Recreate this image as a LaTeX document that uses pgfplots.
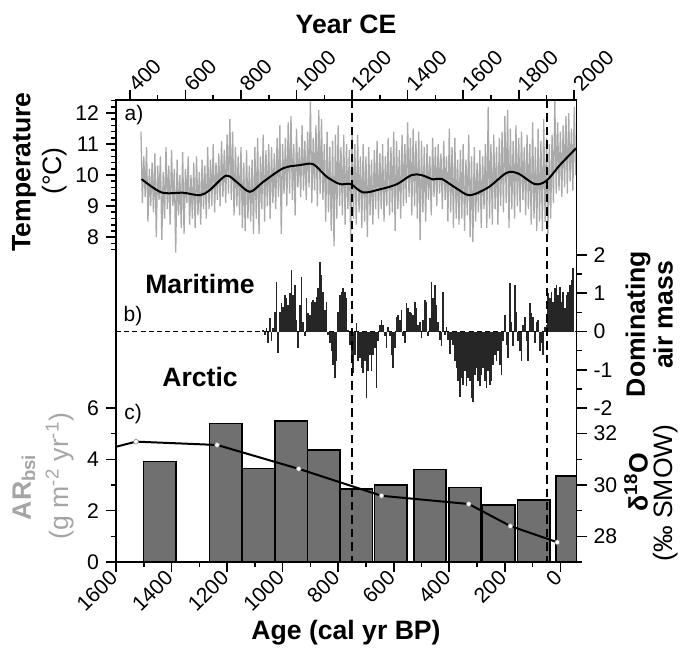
\documentclass[border=0pt]{standalone}
\usepackage{pgfplots}
\pgfplotsset{compat=1.18}
\usepackage{fontspec}
\setmainfont{Liberation Sans}

\definecolor{tempgray}{RGB}{170,170,170}
\definecolor{bargray}{RGB}{112,112,112}
\definecolor{argray}{RGB}{165,165,165}

\newcommand{\labfont}{\fontsize{13.3}{15}\selectfont}

\pgfplotsset{
  panel/.style={
    scale only axis, width=230.25pt, xmin=350, xmax=2008,
    anchor=south west,
    tick align=outside, major tick length=5pt, minor tick length=2.5pt,
    every tick/.style={black, line width=0.8pt},
    every minor tick/.style={black, line width=0.8pt},
    axis line style={line width=0.8pt},
    tick label style={font=\fontsize{10.6}{11}\selectfont},
    /pgf/number format/assume math mode=true,
  },
}

\begin{document}
\begin{tikzpicture}
\useasboundingbox (0,0) rectangle (342.5pt,-324pt);

% a) temperature
\begin{axis}[panel, at={(58pt,-126pt)}, height=76pt,
  ymin=7.52, ymax=12.42,
  axis x line*=top, axis y line*=left,
  xtick={400,600,800,1000,1200,1400,1600,1800,2000},
  xticklabels={400,600,800,1000,1200,1400,1600,1800,2000},
  minor xtick={500,700,900,1100,1300,1500,1700,1900},
  xticklabel style={rotate=45, anchor=west, inner sep=1.5pt},
  ytick={8,9,10,11,12},
  minor ytick={7.6,7.8,8.2,8.4,8.6,8.8,9.2,9.4,9.6,9.8,10.2,10.4,10.6,10.8,11.2,11.4,11.6,11.8,12.2,12.4},
]
\addplot[tempgray, line width=0.65pt] coordinates {
(440,11.4)(445,9.1)(450,10.6)(455,9.3)(460,10.9)(465,8.5)(470,10.2)(475,9.0)(480,10.4)(485,8.8)
(490,10.7)(495,8.0)(500,10.3)(505,9.2)(510,10.6)(515,7.9)(520,10.1)(525,8.6)(530,10.9)(535,8.9)
(540,10.3)(545,8.4)(550,10.8)(555,9.0)(560,10.2)(565,7.5)(570,10.5)(575,8.7)(580,10.0)(585,8.3)
(590,10.75)(595,8.1)(600,10.2)(605,9.1)(610,10.6)(615,8.4)(620,10.0)(625,8.6)(630,10.4)(635,8.3)
(640,10.6)(645,8.7)(650,10.1)(655,8.4)(660,10.5)(665,8.9)(670,10.3)(675,8.6)(680,10.9)(685,8.9)
(690,10.5)(695,9.0)(700,11.0)(705,8.8)(710,10.4)(715,9.2)(720,10.7)(725,9.0)(730,11.1)(735,9.3)
(740,10.8)(745,9.1)(750,11.3)(755,9.4)(760,11.8)(765,9.2)(770,11.4)(775,8.7)(780,10.9)(785,9.0)
(790,10.6)(795,8.7)(800,10.9)(805,8.3)(810,10.4)(815,8.2)(820,10.8)(825,8.6)(830,10.3)(835,8.5)
(840,10.5)(845,8.1)(850,10.9)(855,8.6)(860,11.2)(865,8.1)(870,10.6)(875,8.9)(880,11.3)(885,8.5)
(890,10.8)(895,9.0)(900,11.0)(905,8.6)(910,10.9)(915,9.1)(920,10.7)(925,8.9)(930,11.2)(935,9.3)
(940,11.6)(945,8.1)(950,11.0)(955,9.4)(960,11.2)(965,9.0)(970,11.7)(975,9.4)(980,11.9)(985,9.2)
(990,11.0)(995,8.7)(1000,11.5)(1005,9.6)(1010,10.9)(1015,9.3)(1020,11.6)(1025,9.5)(1030,11.1)(1035,9.2)
(1040,11.4)(1045,9.6)(1050,12.4)(1055,9.1)(1060,11.2)(1065,9.5)(1070,11.6)(1075,9.0)(1080,12.1)(1085,9.4)
(1090,11.8)(1095,9.2)(1100,11.0)(1105,8.5)(1110,11.4)(1115,8.8)(1120,10.9)(1125,8.2)(1130,11.1)(1135,7.7)
(1140,11.3)(1145,8.6)(1150,11.6)(1155,9.0)(1160,10.9)(1165,8.7)(1170,11.3)(1175,8.4)(1180,11.0)(1185,8.9)
(1190,10.8)(1195,7.85)(1200,11.4)(1205,8.6)(1210,11.0)(1215,8.4)(1220,11.3)(1225,8.8)(1230,10.6)(1235,8.3)
(1240,11.0)(1245,8.5)(1250,10.6)(1255,8.0)(1260,10.9)(1265,8.7)(1270,10.5)(1275,8.4)(1280,10.8)(1285,8.9)
(1290,11.1)(1295,8.6)(1300,10.7)(1305,8.9)(1310,11.0)(1315,8.5)(1320,10.6)(1325,9.0)(1330,11.2)(1335,8.7)
(1340,10.9)(1345,8.8)(1350,11.4)(1355,8.2)(1360,11.1)(1365,8.9)(1370,10.8)(1375,8.6)(1380,11.3)(1385,9.0)
(1390,11.0)(1395,9.1)(1400,11.7)(1405,9.3)(1410,11.2)(1415,8.7)(1420,11.5)(1425,9.0)(1430,11.1)(1435,8.6)
(1440,11.4)(1445,7.9)(1450,11.1)(1455,8.8)(1460,10.9)(1465,8.5)(1470,11.0)(1475,9.2)(1480,10.6)(1485,8.7)
(1490,11.2)(1495,9.3)(1500,10.9)(1505,9.0)(1510,11.0)(1515,9.4)(1520,10.7)(1525,8.9)(1530,11.1)(1535,9.2)
(1540,10.6)(1545,8.5)(1550,11.5)(1555,8.8)(1560,10.9)(1565,8.3)(1570,11.2)(1575,8.6)(1580,10.5)(1585,8.4)
(1590,10.8)(1595,8.6)(1600,11.0)(1605,8.2)(1610,10.5)(1615,8.7)(1620,11.3)(1625,8.0)(1630,10.6)(1635,7.85)
(1640,10.9)(1645,8.5)(1650,10.4)(1655,8.8)(1660,10.8)(1665,8.3)(1670,10.6)(1675,8.9)(1680,11.0)(1685,8.3)
(1690,12.2)(1695,8.6)(1700,11.0)(1705,8.4)(1710,11.3)(1715,8.9)(1720,10.9)(1725,8.4)(1730,11.2)(1735,9.0)
(1740,11.4)(1745,8.8)(1750,11.9)(1755,9.1)(1760,12.1)(1765,8.3)(1770,11.5)(1775,8.9)(1780,11.1)(1785,8.6)
(1790,11.6)(1795,9.0)(1800,11.2)(1805,8.8)(1810,11.4)(1815,9.2)(1820,10.9)(1825,8.7)(1830,11.3)(1835,8.9)
(1840,11.0)(1845,8.4)(1850,11.7)(1855,8.6)(1860,10.9)(1865,8.2)(1870,11.5)(1875,8.5)(1880,11.1)(1885,8.2)
(1890,11.8)(1895,8.5)(1900,11.2)(1905,8.1)(1910,11.0)(1915,8.6)(1920,11.3)(1925,9.1)(1930,12.4)(1935,9.4)
(1940,11.7)(1945,9.5)(1950,11.4)(1955,9.3)(1960,11.6)(1965,9.6)(1970,11.9)(1975,9.4)(1980,12.0)(1985,9.8)
(1990,11.5)(1995,9.5)(2000,12.2)(2005,10.0)
};
\addplot[black, line width=1pt, smooth, tension=0.5] coordinates {
(442,9.87)(514,9.44)(592,9.43)(652,9.35)(688,9.52)(746,9.98)(784,9.78)(832,9.46)
(880,9.78)(952,10.22)(1012,10.32)(1060,10.35)(1108,9.95)(1156,9.71)(1195,9.71)
(1240,9.44)(1300,9.54)(1360,9.70)(1414,10.0)(1450,10.0)(1492,9.86)(1522,9.88)
(1576,9.57)(1624,9.35)(1690,9.60)(1756,10.07)(1798,10.05)(1858,9.71)(1900,9.82)
(1948,10.32)(2006,10.86)
};
\coordinate (dAt) at (axis cs:1200,12.42);
\coordinate (dBt) at (axis cs:1900,12.42);
\end{axis}

% b) dominating air mass
\begin{axis}[panel, at={(58pt,-204pt)}, height=76.5pt,
  ymin=-2, ymax=2, hide x axis, axis y line*=right,
  ytick={-2,-1,0,1,2}, minor ytick={-1.5,-0.5,0.5,1.5},
]
\draw[line width=0.7pt, dash pattern=on 2.5pt off 1.6pt] (axis cs:350,0) -- (axis cs:2008,0);
\addplot[ycomb, black!85, line width=0.85pt] coordinates {
(880,0.05)(886,-0.1)(892,0.1)(898,-0.3)(904,0.35)(910,-0.26)(916,0.1)(922,0.5)(928,1.3)(934,-0.57)
(940,0.5)(946,0.74)(952,0.65)(958,0.96)(964,0.87)(970,0.7)(976,1.0)(982,1.6)(988,0.96)(994,1.22)
(1000,0.3)(1006,-0.43)(1012,0.7)(1018,1.43)(1024,0.26)(1030,-0.13)(1036,0.87)(1042,0.48)(1048,0.43)(1054,0.78)
(1060,0.83)(1066,0.78)(1072,0.9)(1078,1.13)(1084,1.83)(1090,1.48)(1096,1.04)(1102,0.57)(1108,0.78)(1114,-0.1)
(1120,-0.3)(1126,-0.52)(1132,-0.87)(1138,-1.22)(1144,-0.78)(1150,0.52)(1156,0.96)(1162,1.04)(1168,1.13)(1174,1.04)
(1180,0.87)(1186,0.05)(1192,-0.35)(1198,-0.78)(1204,-1.09)(1210,-0.61)(1216,0.22)(1222,-0.78)(1228,-0.7)(1234,-0.96)
(1240,-1.09)(1246,-0.78)(1252,-1.74)(1258,-1.04)(1264,-0.61)(1270,-1.04)(1276,-0.61)(1282,-0.43)(1288,-1.48)(1294,-0.26)
(1300,0.17)(1306,0.3)(1312,0.17)(1318,-0.13)(1324,-0.43)(1330,0.13)(1336,-0.13)(1342,-0.61)(1348,-0.96)(1354,-0.43)
(1360,0.39)(1366,0.43)(1372,0.3)(1378,0.57)(1384,-0.13)(1390,-0.3)(1396,0.74)(1402,0.61)(1408,0.52)(1414,0.48)
(1420,0.43)(1426,0.78)(1432,0.61)(1438,0.17)
(1444,0.26)(1450,-0.17)(1456,0.3)(1462,0.83)(1468,0.78)(1474,-0.13)(1480,0.35)(1486,1.3)(1492,0.87)(1498,1.22)
(1504,0.7)(1510,0.26)(1516,-0.22)(1522,-0.39)(1528,1.04)(1534,-0.09)(1540,0.13)(1546,-0.22)(1552,-0.6)(1558,-0.22)
(1564,-0.35)(1570,-0.78)(1576,-0.96)(1582,-1.3)(1588,-1.7)(1594,-1.22)(1600,-1.39)(1606,-1.04)(1612,-1.43)(1618,-1.22)
(1624,-1.3)(1630,-1.74)(1636,-1.83)(1642,-1.13)(1648,-0.96)(1654,-1.3)(1660,-1.43)(1666,-1.13)(1672,-0.96)(1678,-1.3)
(1684,-1.48)(1690,-1.04)(1696,-1.39)(1702,-1.3)(1708,-0.87)(1714,-0.61)(1720,-0.78)(1726,-0.52)(1732,-0.87)(1738,-1.13)
(1744,-0.26)(1750,0.43)(1756,-0.35)(1762,-0.7)(1768,1.26)(1774,0.26)(1780,-0.39)(1786,1.22)(1792,0.52)(1798,-0.26)
(1804,-0.52)(1810,-0.78)(1816,0.17)(1822,0.39)(1828,-0.26)(1834,-0.78)(1840,0.74)(1846,0.48)(1852,0.39)(1858,-0.3)
(1864,0.26)(1870,0.3)(1876,-0.52)(1882,-0.3)(1888,-0.61)(1894,0.13)(1900,0.17)(1906,1.0)(1912,0.87)(1918,1.04)
(1924,0.78)(1930,1.13)(1936,1.22)(1942,0.96)(1948,1.17)(1954,0.78)(1960,1.04)(1966,0.61)(1972,0.96)(1978,1.04)
(1984,1.22)(1990,1.35)(1996,1.65)
};
\end{axis}

% c) ARbsi bars
\begin{axis}[panel, at={(58pt,-281pt)}, height=77pt,
  ymin=0, ymax=6, axis x line*=bottom, axis y line*=left,
  ytick={0,2,4,6}, minor ytick={1,3,5},
  xtick={350,550,750,950,1150,1350,1550,1750,1950},
  xticklabels={1600,1400,1200,1000,800,600,400,200,0},
  minor xtick={450,650,850,1050,1250,1450,1650,1850},
  xticklabel style={rotate=45, anchor=east, inner sep=1.5pt},
  ybar, bar width=116, bar shift=0pt,
]
\addplot[fill=bargray, draw=black, line width=0.8pt] coordinates {
(507,3.91)(745,5.40)(863,3.65)(981,5.50)(1098,4.36)(1215,2.84)
(1339,3.01)(1480,3.60)(1606,2.90)(1728,2.23)(1854,2.41)(1992,3.35)
};
\coordinate (dAb) at (axis cs:1200,0);
\coordinate (dBb) at (axis cs:1900,0);
\end{axis}

% c) d18O
\begin{axis}[panel, at={(58pt,-281pt)}, height=77pt,
  ymin=27, ymax=33, hide x axis, axis y line*=right,
  ytick={28,30,32}, minor ytick={27,29,31,33},
]
\addplot[black, line width=1pt, mark=*, mark size=1.2pt,
  mark options={fill=white, draw=black!45, line width=0.3pt},
  mark indices={2,3,4,5,6,7,8}] coordinates {
(350,31.49)(422,31.69)(714,31.56)(1008,30.63)(1306,29.58)(1620,29.26)(1770,28.40)(1939,27.77)
};
\end{axis}

\draw[line width=0.8pt] (58pt,-50pt) rectangle (288.25pt,-281pt);
\draw[line width=1pt, dash pattern=on 4.2pt off 2.5pt] (dAt) -- (dAb);
\draw[line width=1pt, dash pattern=on 4.2pt off 2.5pt] (dBt) -- (dBb);

\node[font=\labfont\bfseries] at (173pt,-12pt) {Year CE};
\node[font=\labfont\bfseries] at (173pt,-316.5pt) {Age (cal yr BP)};
\node[font=\labfont\bfseries, rotate=90] at (12pt,-86pt) {Temperature};
\node[font=\labfont, rotate=90] at (27.5pt,-85.5pt) {(°C)};
\node[font=\labfont\bfseries, rotate=90, text=argray] at (12pt,-243.5pt) {AR\textsubscript{bsi}};
\node[font=\labfont, rotate=90, text=argray] at (30pt,-238pt) {(g m\textsuperscript{-2} yr\textsuperscript{-1})};
\node[font=\labfont\bfseries, rotate=90] at (319pt,-162pt) {Dominating};
\node[font=\labfont\bfseries, rotate=90] at (331.5pt,-157.5pt) {air mass};
\node[font=\labfont\bfseries, rotate=90] at (318pt,-241pt) {δ\textsuperscript{18}O};
\node[font=\labfont, rotate=90] at (333pt,-246.5pt) {(‰ SMOW)};
\node[font=\labfont\bfseries] at (100pt,-142pt) {Maritime};
\node[font=\labfont\bfseries] at (100pt,-188.5pt) {Arctic};
\node[font=\fontsize{10.5}{12}\selectfont] at (67pt,-57.5pt) {a)};
\node[font=\fontsize{10.5}{12}\selectfont] at (66.5pt,-158pt) {b)};
\node[font=\fontsize{10.5}{12}\selectfont] at (66.5pt,-207pt) {c)};
\end{tikzpicture}
\end{document}
